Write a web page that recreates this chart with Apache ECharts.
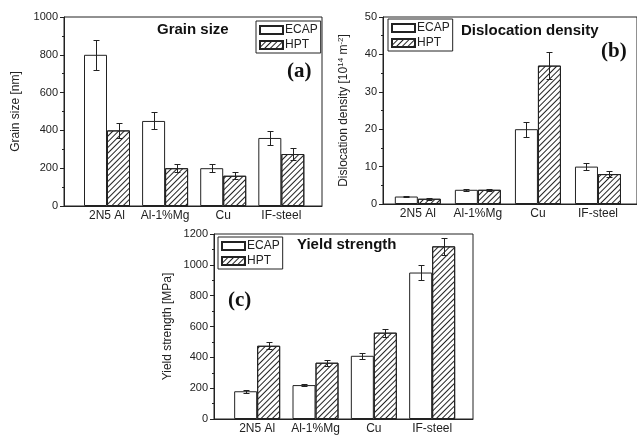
<!DOCTYPE html>
<html><head><meta charset="utf-8">
<script src="https://cdn.jsdelivr.net/npm/echarts@6/dist/echarts.min.js"></script>
<style>html,body{margin:0;padding:0;background:#fff}#c{width:637px;height:435px}</style>
</head><body><div id="c"></div>
<script>
const categories = ['2N5 Al', 'Al-1%Mg', 'Cu', 'IF-steel'];
const seriesNames = ['ECAP', 'HPT'];
// (a) Grain size [nm]
const grainECAP = [800, 450, 200, 360];
const grainECAPErr = [80, 45, 22, 35];
const grainHPT = [400, 200, 160, 275];
const grainHPTErr = [40, 22, 19, 30];
// (b) Dislocation density [10^14 m^-2]
const dislECAP = [2.0, 3.8, 20, 10];
const dislECAPErr = [0.2, 0.3, 2, 1];
const dislHPT = [1.4, 3.8, 37, 8];
const dislHPTErr = [0.2, 0.3, 3.7, 0.8];
// (c) Yield strength [MPa]
const yieldECAP = [180, 220, 410, 950];
const yieldECAPErr = [10, 8, 20, 50];
const yieldHPT = [475, 365, 560, 1120];
const yieldHPTErr = [22, 20, 25, 57];
// y-axis ticks
const grainTicks = {max: 1000, interval: 200};
const dislTicks = {max: 50, interval: 10};
const yieldTicks = {max: 1200, interval: 200};

const BAR_W = 23;
const INK = '#222';
const FONT = 'Liberation Sans, Arial, sans-serif';

const chart = echarts.init(document.getElementById('c'), null, {renderer: 'canvas'});

const grids = [
  {left: 64, top: 17, width: 258, height: 189},
  {left: 383, top: 17, width: 258, height: 187},
  {left: 214, top: 234, width: 259, height: 186}
];
const xRanges = [[0.26, 4.7], [0.42, 4.65], [0.26, 4.7]];
const yTicks = [grainTicks, dislTicks, yieldTicks];
const yNames = ['Grain size [nm]', 'Dislocation density [10{sup|14} m{sup|-2}]', 'Yield strength [MPa]'];
const yNameGaps = [42, 32, 40];

const xAxes = grids.map((g, i) => ({
  type: 'value', gridIndex: i, min: xRanges[i][0], max: xRanges[i][1],
  axisLine: {show: true, lineStyle: {color: INK, width: 1}},
  axisTick: {show: false},
  splitLine: {show: false},
  axisLabel: {
    customValues: categories.map((c, k) => k + 1),
    formatter: v => categories[Math.round(v) - 1] || '',
    color: INK, fontSize: 12, fontFamily: FONT, margin: 4
  }
}));
const yAxes = grids.map((g, i) => ({
  type: 'value', gridIndex: i, min: 0, max: yTicks[i].max, interval: yTicks[i].interval,
  axisLine: {show: true, lineStyle: {color: INK, width: 1}},
  axisTick: {show: true, inside: false, length: 4, lineStyle: {color: INK}},
  minorTick: {show: true, splitNumber: 2, length: 2, lineStyle: {color: INK}},
  splitLine: {show: false},
  axisLabel: {color: INK, fontSize: 11, fontFamily: FONT, margin: 6, formatter: v => String(v)},
  name: yNames[i], nameLocation: 'middle', nameGap: yNameGaps[i], nameRotate: 90,
  nameTextStyle: {
    color: INK, fontSize: 12, fontFamily: FONT,
    rich: {sup: {fontSize: 8, fontFamily: FONT, color: INK, verticalAlign: 'top', padding: [0, 0, 6, 0]}}
  }
}));

const hatch = {
  symbol: 'rect', symbolSize: 1, dashArrayX: [1, 0], dashArrayY: [1, 2.6],
  rotation: -Math.PI / 4, color: '#222'
};

function barSeries(name, gi, vals, decal) {
  return {
    type: 'bar', name, xAxisIndex: gi, yAxisIndex: gi,
    data: vals.map((v, k) => [k + 1, v]),
    barWidth: BAR_W, barGap: '0%',
    itemStyle: Object.assign({color: '#fff', borderColor: INK, borderWidth: 1}, decal ? {decal} : {}),
    emphasis: {disabled: true}, z: 2
  };
}
function errSeries(name, gi, vals, errs, side) {
  return {
    type: 'custom', name: name + ' err', xAxisIndex: gi, yAxisIndex: gi,
    data: vals.map((v, k) => [k + 1, v - errs[k], v + errs[k]]),
    encode: {x: 0, y: [1, 2]}, z: 5, silent: true,
    renderItem: function (params, api) {
      const lo = api.coord([api.value(0), api.value(1)]);
      const hi = api.coord([api.value(0), api.value(2)]);
      const cx = Math.round(lo[0] + side * BAR_W / 2) + 0.5;
      const y1 = Math.round(hi[1]) + 0.5, y2 = Math.round(lo[1]) + 0.5;
      const st = {stroke: INK, lineWidth: 1};
      return {type: 'group', children: [
        {type: 'line', shape: {x1: cx, y1: y1, x2: cx, y2: y2}, style: st},
        {type: 'line', shape: {x1: cx - 3, y1: y1, x2: cx + 3, y2: y1}, style: st},
        {type: 'line', shape: {x1: cx - 3, y1: y2, x2: cx + 3, y2: y2}, style: st}
      ]};
    }
  };
}

const panelData = [
  [grainECAP, grainECAPErr, grainHPT, grainHPTErr],
  [dislECAP, dislECAPErr, dislHPT, dislHPTErr],
  [yieldECAP, yieldECAPErr, yieldHPT, yieldHPTErr]
];
const series = [];
panelData.forEach((p, gi) => {
  series.push(barSeries(seriesNames[0], gi, p[0], null));
  series.push(barSeries(seriesNames[1], gi, p[2], hatch));
  series.push(errSeries(seriesNames[0], gi, p[0], p[1], -1));
  series.push(errSeries(seriesNames[1], gi, p[2], p[3], 1));
});

const legendPos = [{left: 256, top: 21}, {left: 388, top: 19}, {left: 218, top: 237}];
const legends = legendPos.map(pos => Object.assign({
  orient: 'vertical', data: seriesNames, icon: 'rect',
  itemWidth: 23, itemHeight: 8, itemGap: 3,
  padding: [3, 3, 2, 3], borderColor: INK, borderWidth: 1,
  selectedMode: false,
  textStyle: {color: INK, fontSize: 12, fontFamily: FONT, padding: [0, 0, 0, -3]}
}, pos));

const titleStyle = {color: '#111', fontSize: 15, fontWeight: 'bold', fontFamily: FONT};
const tagStyle = {color: '#111', fontSize: 21, fontWeight: 'bold', fontFamily: 'Liberation Serif, Times New Roman, serif'};
const titles = [
  {text: 'Grain size', left: 157, top: 22, padding: 0, textStyle: titleStyle},
  {text: '(a)', left: 287, top: 61, padding: 0, textStyle: tagStyle},
  {text: 'Dislocation density', left: 461, top: 23, padding: 0, textStyle: titleStyle},
  {text: '(b)', left: 601, top: 41, padding: 0, textStyle: tagStyle},
  {text: 'Yield strength', left: 297, top: 237, padding: 0, textStyle: titleStyle},
  {text: '(c)', left: 228, top: 290, padding: 0, textStyle: tagStyle}
];

chart.setOption({
  animation: false,
  backgroundColor: '#fff',
  title: titles,
  legend: legends,
  grid: grids.map(g => Object.assign({show: true, borderColor: INK, borderWidth: 1, backgroundColor: 'transparent'}, g)),
  xAxis: xAxes,
  yAxis: yAxes,
  series
});
</script></body></html>
